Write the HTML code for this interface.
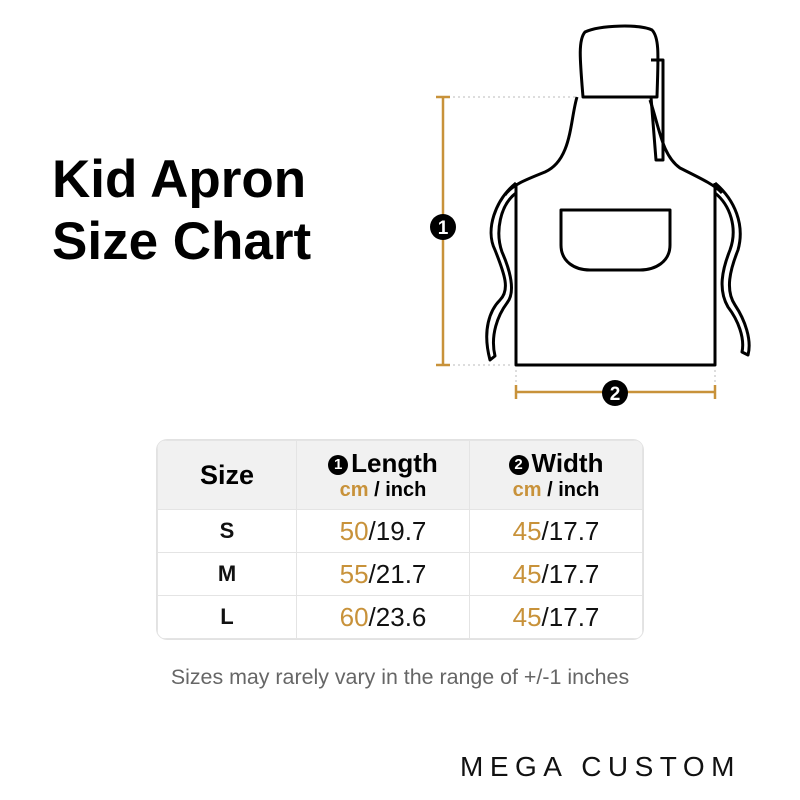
<!DOCTYPE html>
<html><head><style>
body{margin:0;width:800px;height:800px;background:#fff;position:relative;font-family:"Liberation Sans",sans-serif;overflow:hidden}
.t{position:absolute;left:52px;font-weight:bold;font-size:53px;color:#000;line-height:1}
table{position:absolute;left:157px;top:440px;width:486px;border-collapse:collapse;border-radius:10px;overflow:hidden;box-shadow:0 0 0 1px #e2e2e2}
td{text-align:center;border:1px solid #e4e4e4;padding:0}
.h td{background:#f1f1f1;height:68px;font-weight:bold}
.r td{height:42px;font-size:26px;color:#111}
.r td:first-child{font-weight:bold;font-size:22px}
.o{color:#c8923a}
.c{display:inline-block;width:20px;height:20px;border-radius:50%;background:#000;color:#fff;font-size:15px;line-height:20px;text-align:center;vertical-align:3px;margin-right:3px}
</style></head><body>
<div class="t" style="top:153px">Kid Apron</div>
<div class="t" style="top:215px">Size Chart</div>
<svg width="800" height="420" style="position:absolute;left:0;top:0">
<g stroke="#000" stroke-width="3" fill="none" stroke-linejoin="round">
<path d="M583 97 C580 60 578 40 585 32 C600 25 640 24 652 30 C660 38 658 60 657 97 Z"/>
<path d="M583 97 L650 97"/>
<path d="M577 97 C570 120 572 160 545 172 C525 180 512 185 505 195"/>
<path d="M650 100 C660 130 662 155 680 168 C700 178 715 185 722 193"/>
<path d="M516 183 L516 365 L715 365 L715 183"/>
<path d="M651 60 L663 60 L663 160 L656 160 L651 97"/>
<path d="M561 210 L670 210 L670 245 C670 262 655 270 640 270 L590 270 C575 270 561 262 561 245 Z"/>
<path d="M516 183 C495 200 485 230 495 250 C505 275 510 290 500 300 C490 310 482 330 490 360 L495 356 C490 335 498 315 507 303 C516 292 510 270 502 252 C495 232 500 205 516 193"/>
<path d="M715 183 C735 200 745 225 738 250 C730 270 725 290 735 305 C745 320 752 340 748 355 L742 352 C745 338 738 320 728 307 C718 290 722 270 730 250 C738 228 730 205 715 193"/>
</g>
<g stroke="#bbb" stroke-width="1" stroke-dasharray="2 3"><path d="M448 97 L575 97 M448 365 L512 365 M516 370 L516 388 M715 370 L715 388"/></g>
<g stroke="#c8923a" stroke-width="2.5"><path d="M443 97 L443 365 M436 97 L450 97 M436 365 L450 365 M516 392 L715 392 M516 385 L516 399 M715 385 L715 399"/></g>
<circle cx="443" cy="227" r="13" fill="#000"/><text x="443" y="234" fill="#fff" font-size="19" font-weight="bold" text-anchor="middle" font-family="Liberation Sans">1</text>
<circle cx="615" cy="393" r="13" fill="#000"/><text x="615" y="400" fill="#fff" font-size="19" font-weight="bold" text-anchor="middle" font-family="Liberation Sans">2</text>
</svg>
<table>
<tr class="h"><td style="width:138px;font-size:27px">Size</td><td style="width:172px"><div style="font-size:26px"><span class="c">1</span>Length</div><div style="font-size:20px"><span class="o">cm</span> / inch</div></td><td><div style="font-size:26px"><span class="c">2</span>Width</div><div style="font-size:20px"><span class="o">cm</span> / inch</div></td></tr>
<tr class="r"><td>S</td><td><span class="o">50</span>/19.7</td><td><span class="o">45</span>/17.7</td></tr>
<tr class="r"><td>M</td><td><span class="o">55</span>/21.7</td><td><span class="o">45</span>/17.7</td></tr>
<tr class="r"><td>L</td><td><span class="o">60</span>/23.6</td><td><span class="o">45</span>/17.7</td></tr>
</table>
<div style="position:absolute;top:665px;left:0;width:800px;text-align:center;font-size:21.4px;color:#666">Sizes may rarely vary in the range of +/-1 inches</div>
<div style="position:absolute;top:751px;left:460px;font-size:28px;letter-spacing:6.5px;color:#111">MEGA CUSTOM</div>
</body></html>
